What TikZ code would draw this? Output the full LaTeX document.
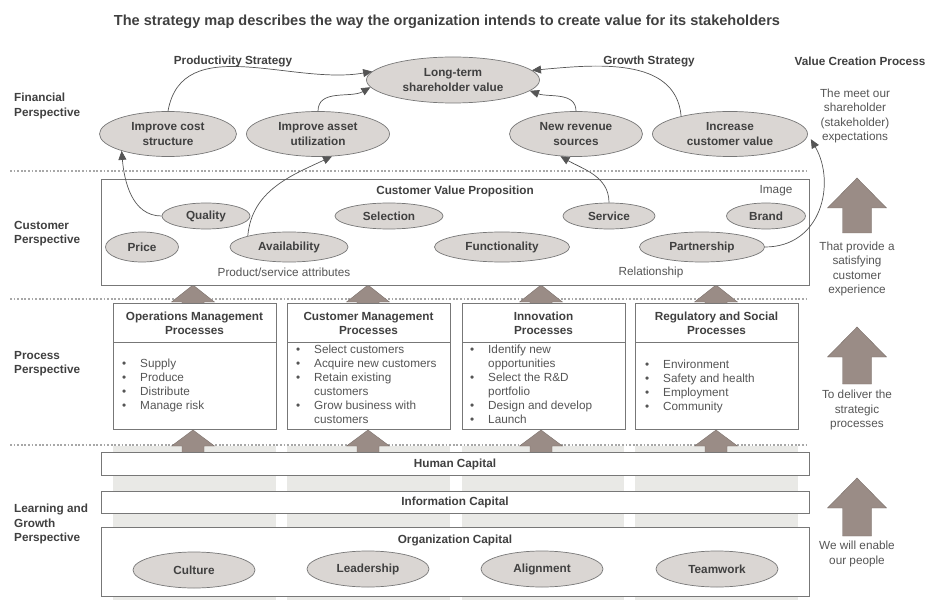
\documentclass[tikz,border=0pt]{standalone}
\usepackage{fontspec}
\setmainfont{Liberation Sans}
\usetikzlibrary{shapes.geometric,arrows.meta}

\definecolor{txtc}{HTML}{404040}
\definecolor{ovalfill}{HTML}{DAD6D3}
\definecolor{linec}{HTML}{777777}
\definecolor{darkc}{HTML}{555555}
\definecolor{arrowc}{HTML}{9A8C86}
\definecolor{colfill}{HTML}{E9E9E6}
\definecolor{dotc}{HTML}{A8A8A8}

% fat up arrow: x, tip y, head base y, bottom y, half head width, half shaft width
\newcommand\blockarrow[6]{%
  \filldraw[fill=arrowc, draw=arrowc!80!black, line width=0.4bp]
    (#1,#2) -- (#1+#5,#3) -- (#1+#6,#3) -- (#1+#6,#4) -- (#1-#6,#4)
    -- (#1-#6,#3) -- (#1-#5,#3) -- cycle;}

\begin{document}
\begin{tikzpicture}[x=1bp, y=-1bp,
    every node/.style={text=txtc, inner sep=0pt, font=\fontsize{11.8}{14.2}\selectfont},
    oval/.style={ellipse, draw=linec, fill=ovalfill, line width=0.7bp, align=center,
                 font=\fontsize{11.8}{14.2}\selectfont\bfseries},
    box/.style={draw=linec, fill=white, line width=0.8bp, anchor=north west},
    heading/.style={font=\fontsize{11.8}{14.2}\selectfont\bfseries, align=center},
    side/.style={font=\fontsize{11.8}{14.2}\selectfont\bfseries, align=left, anchor=west},
    note/.style={align=center, text=darkc},
    sep/.style={draw=dotc, line width=1.8bp, dash pattern=on 1.8bp off 1.8bp},
    link/.style={draw=darkc, line width=0.7bp, -{Triangle[length=9bp, width=8bp]}},
]
\useasboundingbox (0,0) rectangle (928,602);

% Title and strategy headings
\node[heading, font=\fontsize{14.6}{17}\selectfont\bfseries] (title) at (447,22)
  {The strategy map describes the way the organization intends to create value for its stakeholders};
\node[heading] (prodstrat) at (233,61) {Productivity Strategy};
\node[heading] (growstrat) at (649,61) {Growth Strategy};
\node[heading] (valproc) at (860,61) {Value Creation Process};

% Perspective labels on the left
\node[side] (finlbl) at (14,106) {Financial\\Perspective};
\node[side] (custlbl) at (14,234) {Customer\\Perspective};
\node[side] (proclbl) at (14,364) {Process\\Perspective};
\node[side] (learnlbl) at (14,524) {Learning and\\Growth\\Perspective};

% Gray columns behind the capital boxes
\foreach \xa/\xb in {113/276, 287/450, 462/624, 635/798} {
    \fill[colfill] (\xa,446) rectangle (\xb,600);
}

% Dotted separators
\foreach \y in {171,299,445} {
    \draw[sep] (10,\y) -- (808,\y);
}

% Small arrows between the layers
\foreach \x in {193,368,541,716} {
    \blockarrow{\x}{285}{302}{307}{21.5}{11}
    \blockarrow{\x}{430}{446}{454}{21.5}{11}
}

% Big arrows of the value creation process
\blockarrow{857}{178}{208}{233}{29.5}{14.5}
\blockarrow{857}{327}{357}{384}{29.5}{14.5}
\blockarrow{857}{478}{508}{536}{29.5}{14.5}

\node[note] (meetnote) at (855,116) {The meet our\\shareholder\\(stakeholder)\\expectations};
\node[note] (provnote) at (857,269) {That provide a\\satisfying\\customer\\experience};
\node[note] (delnote) at (857,410) {To deliver the\\strategic\\processes};
\node[note] (enanote) at (857,554) {We will enable\\our people};

% Financial perspective
\node[oval, minimum width=173bp, minimum height=46bp] (longterm) at (453,80) {Long-term\\shareholder value};
\node[oval, minimum width=137bp, minimum height=45bp] (cost) at (168,134) {Improve cost\\structure};
\node[oval, minimum width=143bp, minimum height=45bp] (asset) at (318,134) {Improve asset\\utilization};
\node[oval, minimum width=133bp, minimum height=45bp] (newrev) at (576,134) {New revenue\\sources};
\node[oval, minimum width=155bp, minimum height=45bp] (incval) at (730,134) {Increase\\customer value};

% Customer perspective
\node[box, minimum width=708bp, minimum height=106bp] (cvpbox) at (101,179) {};
\node[heading] (cvptitle) at (455,191) {Customer Value Proposition};
\node[text=darkc] (imagelbl) at (776,191) {Image};
\node[text=darkc] (attrlbl) at (284,272) {Product/service attributes};
\node[text=darkc] (rellbl) at (651,272) {Relationship};

\node[oval, minimum width=88bp, minimum height=26bp] (quality) at (206,216) {Quality};
\node[oval, minimum width=108bp, minimum height=26bp] (selection) at (389,216) {Selection};
\node[oval, minimum width=92bp, minimum height=26bp] (service) at (609,216) {Service};
\node[oval, minimum width=79bp, minimum height=26bp] (brand) at (766,216) {Brand};
\node[oval, minimum width=73bp, minimum height=30bp] (price) at (142,247) {Price};
\node[oval, minimum width=118bp, minimum height=30bp] (avail) at (289,247) {Availability};
\node[oval, minimum width=135bp, minimum height=30bp] (func) at (502,247) {Functionality};
\node[oval, minimum width=125bp, minimum height=30bp] (partner) at (702,247) {Partnership};

% Process perspective
\node[box, minimum width=163bp, minimum height=126bp] (opsbox) at (113,303) {};
\node[box, minimum width=163bp, minimum height=126bp] (cmbox) at (287,303) {};
\node[box, minimum width=163bp, minimum height=126bp] (innobox) at (462,303) {};
\node[box, minimum width=163bp, minimum height=126bp] (regbox) at (635,303) {};
\foreach \xa/\xb in {113/276, 287/450, 462/625, 635/798} {
    \draw[linec, line width=0.8bp] (\xa,342) -- (\xb,342);
}

\node[heading] (opshead) at (194.5,323.5) {Operations Management\\Processes};
\node[heading] (cmhead) at (368.5,323.5) {Customer Management\\Processes};
\node[heading] (innohead) at (543.5,323.5) {Innovation\\Processes};
\node[heading] (reghead) at (716.5,323.5) {Regulatory and Social\\Processes};

\node[anchor=north west, text=darkc] (opslist) at (122,357) {\begin{tabular}{@{}l@{\hspace{13.9bp}}l@{}}
  \textbullet & Supply\\ \textbullet & Produce\\ \textbullet & Distribute\\ \textbullet & Manage risk
\end{tabular}};
\node[anchor=north west, text=darkc] (cmlist) at (296,343) {\begin{tabular}{@{}l@{\hspace{13.9bp}}l@{}}
  \textbullet & Select customers\\ \textbullet & Acquire new customers\\ \textbullet & Retain existing\\
  & customers\\ \textbullet & Grow business with\\ & customers
\end{tabular}};
\node[anchor=north west, text=darkc] (innolist) at (470,343) {\begin{tabular}{@{}l@{\hspace{13.9bp}}l@{}}
  \textbullet & Identify new\\ & opportunities\\ \textbullet & Select the R\&D\\ & portfolio\\
  \textbullet & Design and develop\\ \textbullet & Launch
\end{tabular}};
\node[anchor=north west, text=darkc] (reglist) at (645,358) {\begin{tabular}{@{}l@{\hspace{13.9bp}}l@{}}
  \textbullet & Environment\\ \textbullet & Safety and health\\ \textbullet & Employment\\ \textbullet & Community
\end{tabular}};

% Learning and growth perspective
\node[box, minimum width=708bp, minimum height=23bp] (humanbox) at (101,452) {};
\node[box, minimum width=708bp, minimum height=22bp] (infobox) at (101,491) {};
\node[box, minimum width=708bp, minimum height=69bp] (orgbox) at (101,527) {};
\node[heading] (humanlbl) at (455,464) {Human Capital};
\node[heading] (infolbl) at (455,502) {Information Capital};
\node[heading] (orglbl) at (455,540) {Organization Capital};

\node[oval, minimum width=122bp, minimum height=36bp] (culture) at (194,570) {Culture};
\node[oval, minimum width=122bp, minimum height=36bp] (leader) at (368,569) {Leadership};
\node[oval, minimum width=122bp, minimum height=36bp] (align) at (542,569) {Alignment};
\node[oval, minimum width=122bp, minimum height=36bp] (team) at (717,569) {Teamwork};

% Links up to shareholder value
\draw[link] (cost.north) to[out=80, in=190] (longterm.174);
\draw[link] (asset.north) to[out=90, in=210] (longterm.185);
\draw[link] (newrev.north) to[out=90, in=-20] (longterm.-8);
\draw[link] (incval.160) to[out=95, in=5] (longterm.7);

% Links from the customer attributes
\draw[link] (quality.west) to[out=180, in=-85] (cost.-160);
\draw[link] (avail.165) to[out=85, in=205] (asset.-58);
\draw[link] (service.north) to[out=90, in=-30] (newrev.-125);
\draw[link, shorten >=6bp] (partner.east) to[out=0, in=-60, looseness=1.2] (incval.east);

\end{tikzpicture}
\end{document}
